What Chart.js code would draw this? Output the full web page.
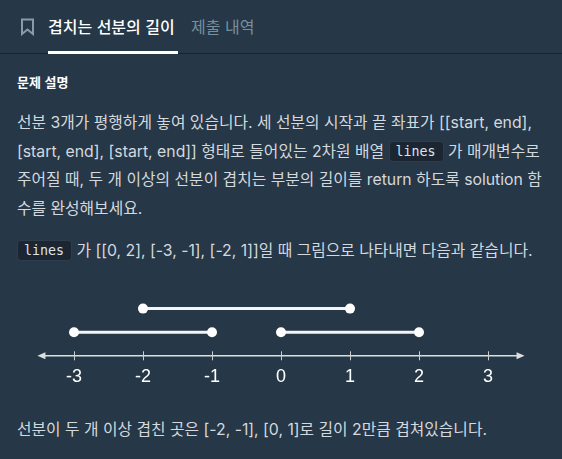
<!DOCTYPE html>
<html lang="ko">
<head>
<meta charset="utf-8">
<script src="https://cdn.jsdelivr.net/npm/chart.js@4.4.0/dist/chart.umd.min.js"></script>
<style>
  html, body {
    margin: 0;
    padding: 0;
    width: 562px;
    height: 459px;
    overflow: hidden;
    background: #263747;
    font-family: "Noto Sans CJK KR", "Noto Sans", sans-serif;
  }
  .tabs {
    position: absolute;
    left: 0;
    top: 0;
    width: 562px;
    height: 53px;
    border-bottom: 1px solid #172334;
  }
  .tabs svg {
    position: absolute;
    left: 20px;
    top: 18px;
  }
  .tab {
    position: absolute;
    top: 14px;
    font-size: 16px;
    line-height: 24px;
    white-space: nowrap;
  }
  .tab.active {
    left: 48px;
    color: #ffffff;
    font-weight: 500;
  }
  .tab.active::after {
    content: "";
    position: absolute;
    left: 0;
    right: -3px;
    top: 37px;
    height: 3px;
    background: #ffffff;
  }
  .tab.other {
    left: 191px;
    color: #78909c;
  }
  h6 {
    position: absolute;
    left: 17px;
    top: 72px;
    margin: 0;
    font-size: 13px;
    line-height: 20px;
    font-weight: 700;
    color: #ffffff;
  }
  .para {
    position: absolute;
    left: 17px;
    margin: 0;
    font-family: Inter, "Noto Sans CJK KR", sans-serif;
    font-size: 15.8px;
    line-height: 28.6px;
    color: #d4d9de;
    white-space: nowrap;
  }
  code {
    display: inline-block;
    font-family: "DejaVu Sans Mono", monospace;
    font-size: 13.3px;
    line-height: 19px;
    padding: 0 7px 0 6px;
    border-radius: 4px;
    background: #1c2633;
    border: 1px solid #2f3c4b;
    color: #dfe3e8;
    vertical-align: 1px;
  }
  #wrap {
    position: absolute;
    left: 0;
    top: 280px;
    width: 562px;
    height: 120px;
  }
</style>
</head>
<body>
<div class="tabs">
  <svg width="16" height="18" viewBox="0 0 16 18">
    <path d="M2 1.5 H13 V16 L7.5 11.5 L2 16 Z" fill="none" stroke="#8a9aa8" stroke-width="2" stroke-linejoin="miter"/>
  </svg>
  <span class="tab active">겹치는 선분의 길이</span>
  <span class="tab other">제출 내역</span>
</div>

<h6>문제 설명</h6>

<p class="para" style="top:109px">선분 3개가 평행하게 놓여 있습니다. 세 선분의 시작과 끝 좌표가 [[start, end],<br>[start, end], [start, end]] 형태로 들어있는 2차원 배열 <code>lines</code> 가 매개변수로<br>주어질 때, 두 개 이상의 선분이 겹치는 부분의 길이를 return 하도록 solution 함<br>수를 완성해보세요.</p>

<p class="para" style="top:237px"><code>lines</code> 가 [[0, 2], [-3, -1], [-2, 1]]일 때 그림으로 나타내면 다음과 같습니다.</p>

<div id="wrap"><canvas id="numberLine" width="562" height="120"></canvas></div>

<p class="para" style="top:416px">선분이 두 개 이상 겹친 곳은 [-2, -1], [0, 1]로 길이 2만큼 겹쳐있습니다.</p>

<script>
// segments from the example: lines = [[0, 2], [-3, -1], [-2, 1]]
const segStarts = [0, -3, -2];
const segEnds = [2, -1, 1];
const segRows = [1, 1, 2]; // which row above the axis each segment sits on
const tickValues = [-3, -2, -1, 0, 1, 2, 3];

const AXIS_COLOR = "#dedede";

// draws the number line itself: arrowed axis + small tick marks
const numberLinePlugin = {
  id: "numberLine",
  beforeDatasetsDraw(chart) {
    const ctx = chart.ctx;
    const xs = chart.scales.x;
    const ys = chart.scales.y;
    const y0 = ys.getPixelForValue(0);
    const left = xs.getPixelForValue(-3.53);
    const right = xs.getPixelForValue(3.53);

    ctx.save();
    ctx.strokeStyle = AXIS_COLOR;
    ctx.fillStyle = AXIS_COLOR;
    ctx.lineWidth = 1.5;
    ctx.beginPath();
    ctx.moveTo(left + 4, y0);
    ctx.lineTo(right - 4, y0);
    ctx.stroke();

    // arrow heads
    ctx.beginPath();
    ctx.moveTo(left, y0);
    ctx.lineTo(left + 8, y0 - 3.5);
    ctx.lineTo(left + 8, y0 + 3.5);
    ctx.closePath();
    ctx.fill();
    ctx.beginPath();
    ctx.moveTo(right, y0);
    ctx.lineTo(right - 8, y0 - 3.5);
    ctx.lineTo(right - 8, y0 + 3.5);
    ctx.closePath();
    ctx.fill();

    // tick marks
    ctx.lineWidth = 1;
    ctx.strokeStyle = "#cfcfcf";
    tickValues.forEach((v) => {
      const px = Math.round(xs.getPixelForValue(v)) + 0.5;
      ctx.beginPath();
      ctx.moveTo(px, y0 - 4.5);
      ctx.lineTo(px, y0 + 4.5);
      ctx.stroke();
    });
    ctx.restore();
  },
};

const datasets = segStarts.map((s, i) => ({
  data: [
    { x: s, y: segRows[i] },
    { x: segEnds[i], y: segRows[i] },
  ],
  showLine: true,
  borderColor: "#f4f4f4",
  borderWidth: 3,
  pointRadius: 5,
  pointBackgroundColor: "#ffffff",
  pointBorderWidth: 0,
  clip: false,
}));

const ctx = document.getElementById("numberLine").getContext("2d");
new Chart(ctx, {
  type: "scatter",
  data: { datasets: datasets },
  options: {
    responsive: false,
    animation: false,
    devicePixelRatio: 1,
    layout: {
      padding: { left: 1, right: 2, top: 3, bottom: 1 },
    },
    plugins: {
      legend: { display: false },
      tooltip: { enabled: false },
    },
    scales: {
      x: {
        type: "linear",
        min: -4,
        max: 4,
        afterBuildTicks: (scale) => {
          scale.ticks = tickValues.map((v) => ({ value: v }));
        },
        grid: { display: false, drawTicks: false },
        border: { display: false },
        ticks: {
          color: "#ffffff",
          padding: 10.8,
          maxRotation: 0,
          autoSkip: false,
          font: { family: "Liberation Sans", size: 18 },
        },
      },
      y: {
        display: false,
        min: 0,
        max: 3,
      },
    },
  },
  plugins: [numberLinePlugin],
});
</script>
</body>
</html>
